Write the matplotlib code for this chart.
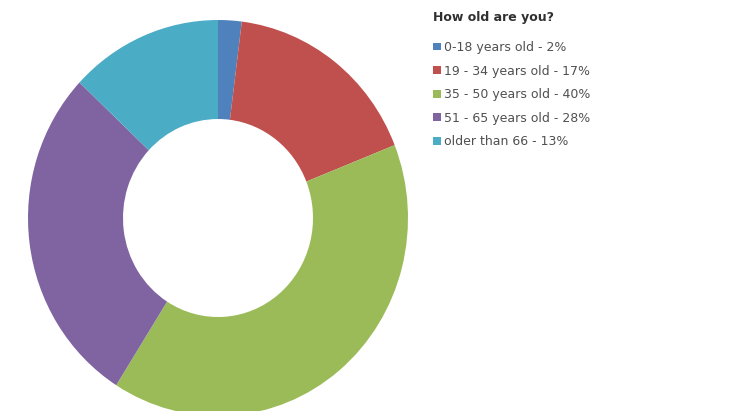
import matplotlib.pyplot as plt

# age groups and share of respondents (%)
labels = ['0-18 years old - 2%', '19 - 34 years old - 17%', '35 - 50 years old - 40%',
          '51 - 65 years old - 28%', 'older than 66 - 13%']
shares = [2, 17, 40, 28, 13]
colors = ['#4F81BD', '#C0504D', '#9BBB59', '#8064A2', '#4BACC6']

fig = plt.figure(figsize=(7.35, 4.11), dpi=100)
ax = fig.add_axes([0.0381, -0.0122, 0.517, 0.9635])

wedges, _ = ax.pie(shares, colors=colors, startangle=90, counterclock=False,
                   radius=1.0, wedgeprops=dict(width=0.5, linewidth=0))
ax.set_xlim(-1, 1)
ax.set_ylim(-1, 1)
ax.set_aspect('auto')
ax.axis('off')

leg = fig.legend(wedges, labels, title='How old are you?', loc='upper left',
                 bbox_to_anchor=(0.574, 1.0), frameon=False, fontsize=9,
                 title_fontproperties={'weight': 'bold', 'size': 9},
                 handlelength=0.6, handleheight=0.6, handletextpad=0.3,
                 labelspacing=0.85, alignment='left', labelcolor='#505050')
leg.get_title().set_color('#303030')
leg._legend_box.sep = 12  # a bit more room under the title

fig.savefig('out.png', dpi=100)
